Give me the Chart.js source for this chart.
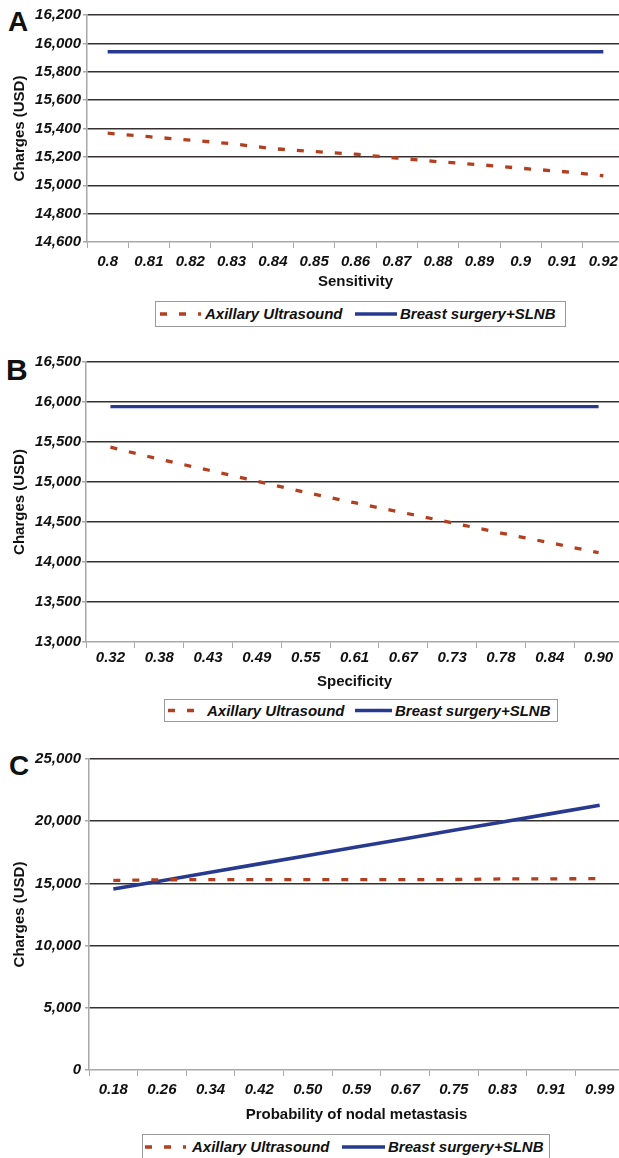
<!DOCTYPE html>
<html>
<head>
<meta charset="utf-8">
<script src="https://cdn.jsdelivr.net/npm/chart.js@4.4.0/dist/chart.umd.min.js"></script>
<style>
  html, body { margin: 0; padding: 0; background: #fff; }
  body { width: 619px; height: 1158px; overflow: hidden; position: relative;
         font-family: "Liberation Sans", Arial, sans-serif; color: #111; }
  .panel { position: absolute; left: 0; width: 630px; }
  .letter { position: absolute; font-weight: bold; color: #111; }
  .legend { position: absolute; border: 1px solid #9a9a9a; background: #fff; box-sizing: border-box; }
  .legend span { position: absolute; font: italic bold 15px "Liberation Sans", Arial, sans-serif;
                 line-height: 18px; white-space: nowrap; color: #111; }
  .legend svg { position: absolute; }
</style>
</head>
<body>

<div class="letter" style="left:8px; top:8px; font-size:28px; line-height:28px;">A</div>
<div class="letter" style="left:6px; top:355px; font-size:30px; line-height:30px;">B</div>
<div class="letter" style="left:9px; top:752px; font-size:28px; line-height:28px;">C</div>

<div class="panel" style="top:0; height:302px;"><canvas id="chartA"></canvas></div>
<div class="panel" style="top:335px; height:362px;"><canvas id="chartB"></canvas></div>
<div class="panel" style="top:725px; height:405px;"><canvas id="chartC"></canvas></div>

<div id="legA" class="legend" style="left:155px; top:301px; width:411px; height:26px;"></div>
<div id="legB" class="legend" style="left:164px; top:699px; width:394px; height:23px;"></div>
<div id="legC" class="legend" style="left:142px; top:1134px; width:408px; height:26px;"></div>

<script>
// series names
const seriesNames = ["Axillary Ultrasound", "Breast surgery+SLNB"];

// A: sensitivity
const sensitivity = ["0.8", "0.81", "0.82", "0.83", "0.84", "0.85", "0.86", "0.87", "0.88", "0.89", "0.9", "0.91", "0.92"];
const sensUltrasound = [15367, 15342, 15318, 15293, 15258, 15237, 15219, 15192, 15166, 15145, 15120, 15097, 15067];
const sensSurgery = [15941, 15941, 15941, 15941, 15941, 15941, 15941, 15941, 15941, 15941, 15941, 15941, 15941];
const sensAxis = [14600, 16200, 200];

// B: specificity
const specificity = ["0.32", "0.38", "0.43", "0.49", "0.55", "0.61", "0.67", "0.73", "0.78", "0.84", "0.90"];
const specUltrasound = [15435, 15285, 15150, 15009, 14869, 14741, 14616, 14490, 14362, 14241, 14116];
const specSurgery = [15941, 15941, 15941, 15941, 15941, 15941, 15941, 15941, 15941, 15941, 15941];
const specAxis = [13000, 16500, 500];

// C: probability of nodal metastasis
const nodalProb = ["0.18", "0.26", "0.34", "0.42", "0.50", "0.59", "0.67", "0.75", "0.83", "0.91", "0.99"];
const nodalUltrasound = [15240, 15290, 15300, 15300, 15300, 15300, 15310, 15310, 15360, 15370, 15380];
const nodalSurgery = [14550, 15220, 15900, 16570, 17240, 17920, 18590, 19270, 19940, 20610, 21290];
const nodalAxis = [0, 25000, 5000];

const RED = "#b23f1f";
const BLUE = "#283a8f";
const GRID = "#363030";
const AXIS = "#a8a8a8";
const FONT = "'Liberation Sans', Arial, sans-serif";
const DASH = [7, 12];

function makeChart(id, labels, ultra, surgery, axis, xTitle, g) {
  const ctx = document.getElementById(id).getContext("2d");
  return new Chart(ctx, {
    type: "line",
    data: {
      labels: labels,
      datasets: [
        { label: seriesNames[0], data: ultra, borderColor: RED, borderWidth: 3.3,
          borderDash: DASH, borderCapStyle: "butt", pointRadius: 0, tension: 0, fill: false },
        { label: seriesNames[1], data: surgery, borderColor: BLUE, borderWidth: g.blueWidth,
          pointRadius: 0, tension: 0, fill: false }
      ]
    },
    options: {
      responsive: true,
      maintainAspectRatio: false,
      animation: false,
      events: [],
      devicePixelRatio: 1,
      layout: { padding: { top: g.padTop, right: g.padRight, left: 0, bottom: 0 } },
      plugins: { legend: { display: false }, tooltip: { enabled: false } },
      scales: {
        x: {
          offset: true,
          grid: { offset: true, drawOnChartArea: false, drawTicks: true, tickLength: 6,
                  tickColor: AXIS, lineWidth: 1 },
          border: { color: AXIS, width: 1.5 },
          ticks: { color: "#111", padding: g.xTickPad, autoSkip: false, maxRotation: 0,
                   font: { family: FONT, size: 15, weight: "bold", style: "italic" } },
          title: { display: true, text: xTitle, color: "#111",
                   padding: { top: 0, bottom: g.xTitlePad },
                   font: { family: FONT, size: 15, weight: "bold" } },
          afterFit: (s) => { s.height = g.xHeight; }
        },
        y: {
          min: axis[0], max: axis[1],
          grid: {
            color: (c) => (c.index === 0 ? "rgba(0,0,0,0)" : GRID),
            lineWidth: 1.5, tickLength: 4, tickColor: AXIS
          },
          border: { color: AXIS, width: 1.5 },
          ticks: { stepSize: axis[2], color: "#111", padding: g.yTickPad,
                   callback: (v) => Number(v).toLocaleString("en-US"),
                   font: { family: FONT, size: 15, weight: "bold", style: "italic" } },
          title: { display: true, text: "Charges (USD)", color: "#111",
                   padding: { top: 11, bottom: 0 },
                   font: { family: FONT, size: 15, weight: "bold" } },
          afterFit: (s) => { s.width = g.yWidth; }
        }
      }
    }
  });
}

makeChart("chartA", sensitivity, sensUltrasound, sensSurgery, sensAxis, "Sensitivity",
  { padTop: 15, padRight: 6, yWidth: 87, yTickPad: 2, xHeight: 60, xTickPad: 5, xTitlePad: 11, blueWidth: 3.3 });
makeChart("chartB", specificity, specUltrasound, specSurgery, specAxis, "Specificity",
  { padTop: 27, padRight: 7, yWidth: 86, yTickPad: 1, xHeight: 55, xTickPad: 1, xTitlePad: 6, blueWidth: 3.3 });
makeChart("chartC", nodalProb, nodalUltrasound, nodalSurgery, nodalAxis, "Probability of nodal metastasis",
  { padTop: 34, padRight: 6, yWidth: 89, yTickPad: 4, xHeight: 60, xTickPad: 5, xTitlePad: 6, blueWidth: 3.6 });

// legends (positions relative to each box)
function fillLegend(id, h, redX, redW, text1X, blueX, blueW, text2X) {
  const box = document.getElementById(id);
  const cy = (h - 2) / 2;
  box.innerHTML =
    `<svg style="left:${redX}px;top:0" width="${redW}" height="${h - 2}">
       <line x1="0" y1="${cy}" x2="${redW}" y2="${cy}" stroke="${RED}" stroke-width="3.3" stroke-dasharray="${DASH.join(" ")}"/></svg>
     <span style="left:${text1X}px;top:${cy - 9}px">${seriesNames[0]}</span>
     <svg style="left:${blueX}px;top:0" width="${blueW}" height="${h - 2}">
       <line x1="0" y1="${cy}" x2="${blueW}" y2="${cy}" stroke="${BLUE}" stroke-width="3.3"/></svg>
     <span style="left:${text2X}px;top:${cy - 9}px">${seriesNames[1]}</span>`;
}
fillLegend("legA", 26, 4, 41, 49, 199, 42, 244);
fillLegend("legB", 23, 3, 36, 42, 190, 37, 230);
fillLegend("legC", 26, 2, 41, 49, 199, 43, 245);
</script>
</body>
</html>
